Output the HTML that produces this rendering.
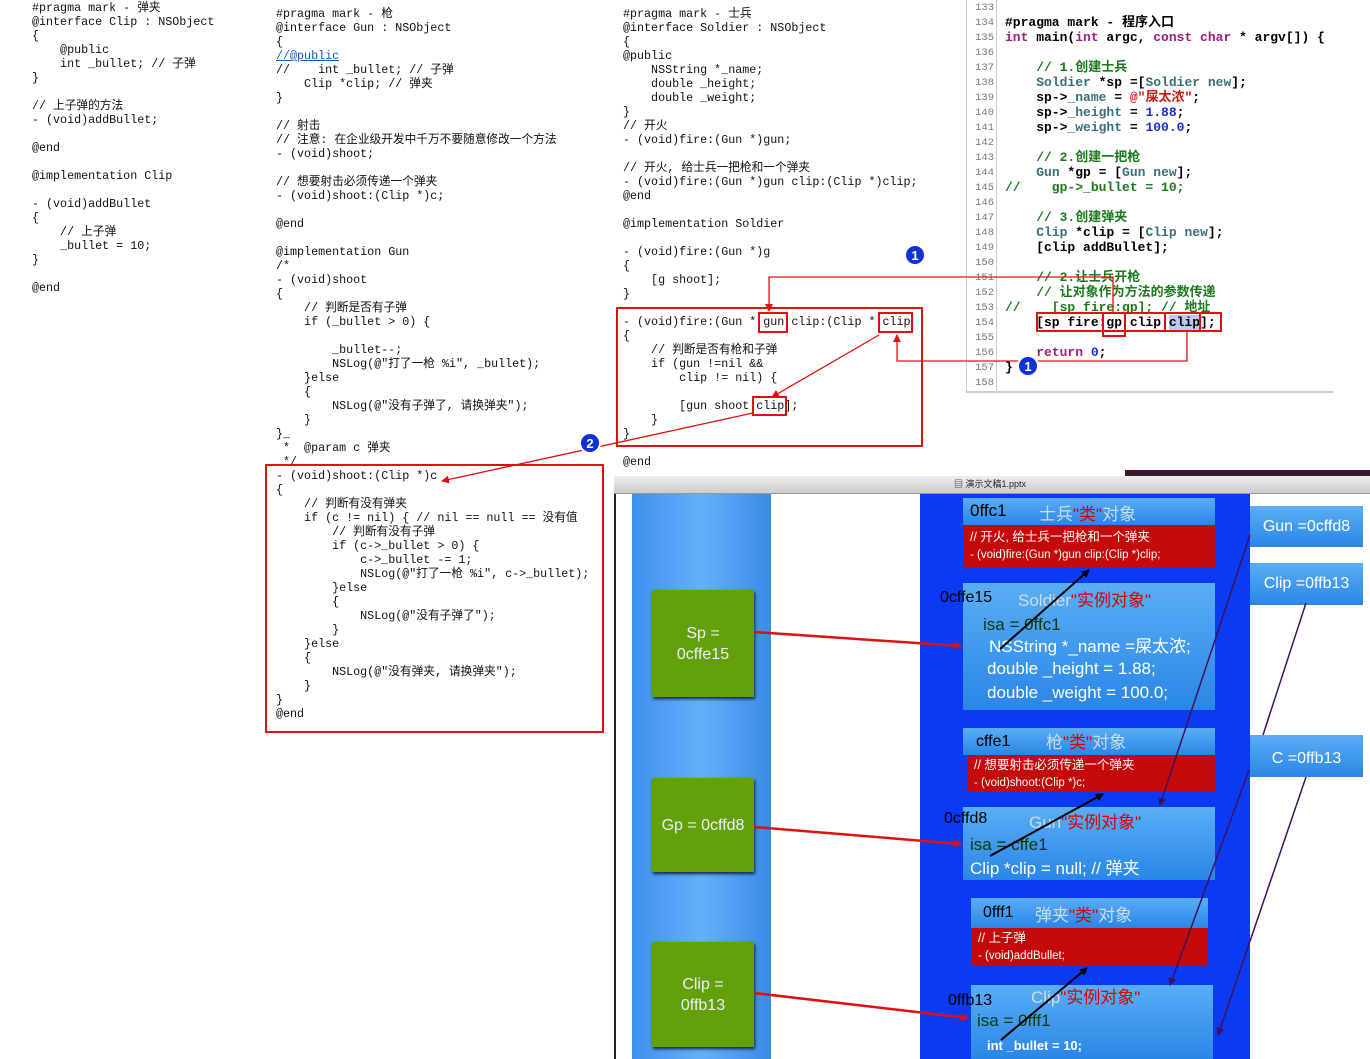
<!DOCTYPE html>
<html><head><meta charset="utf-8"><style>
body{margin:0;width:1370px;height:1059px;background:#fff;position:relative;overflow:hidden;font-family:"Liberation Sans","Noto Sans CJK SC",sans-serif}
.c{position:absolute;margin:0;font-family:"Liberation Mono","Noto Sans CJK SC",monospace;font-size:11.7px;line-height:14px;color:#111;white-space:pre}
.r{position:absolute;margin:0;font-family:"Liberation Mono","Noto Sans CJK SC",monospace;font-size:13px;line-height:15px;color:#000;white-space:pre;font-weight:bold}
.ln{position:absolute;margin:0;font-family:"Liberation Mono",monospace;font-size:10.5px;line-height:15px;color:#777;white-space:pre;text-align:right}
.g{color:#1c7a1c}.k{color:#a0207a}.n{color:#1c2ccf}.s{color:#c41a16}.t{color:#3a6e7a}
.ab{position:absolute}
.hb{position:absolute;background:linear-gradient(#5aaef5,#2a86e6);color:#fff;font-size:17px}
.rd{position:absolute;background:#c40a0a;color:#fff;font-size:12.5px;line-height:17px;padding-left:7px;box-sizing:border-box}
.gr{position:absolute;background:#64a00a;color:#eef;font-size:16px;text-align:center;display:flex;align-items:center;justify-content:center;line-height:21px;box-shadow:1px 2px 3px #124}
.cr{color:#d00}
</style></head><body>

<pre class="c" style="left:32px;top:1px">#pragma mark - 弹夹
@interface Clip : NSObject
{
    @public
    int _bullet; // 子弹
}

// 上子弹的方法
- (void)addBullet;

@end

@implementation Clip

- (void)addBullet
{
    // 上子弹
    _bullet = 10;
}

@end</pre>

<pre class="c" style="left:276px;top:7px">#pragma mark - 枪
@interface Gun : NSObject
{
<span style="color:#1a55c9;text-decoration:underline">//@public</span>
//    int _bullet; // 子弹
    Clip *clip; // 弹夹
}

// 射击
// 注意: 在企业级开发中千万不要随意修改一个方法
- (void)shoot;

// 想要射击必须传递一个弹夹
- (void)shoot:(Clip *)c;

@end

@implementation Gun
/*
- (void)shoot
{
    // 判断是否有子弹
    if (_bullet &gt; 0) {

        _bullet--;
        NSLog(@"打了一枪 %i", _bullet);
    }else
    {
        NSLog(@"没有子弹了, 请换弹夹");
    }
}_
 *  @param c 弹夹
 */
- (void)shoot:(Clip *)c
{
    // 判断有没有弹夹
    if (c != nil) { // nil == null == 没有值
        // 判断有没有子弹
        if (c-&gt;_bullet &gt; 0) {
            c-&gt;_bullet -= 1;
            NSLog(@"打了一枪 %i", c-&gt;_bullet);
        }else
        {
            NSLog(@"没有子弹了");
        }
    }else
    {
        NSLog(@"没有弹夹, 请换弹夹");
    }
}
@end</pre>

<pre class="c" style="left:623px;top:7px">#pragma mark - 士兵
@interface Soldier : NSObject
{
@public
    NSString *_name;
    double _height;
    double _weight;
}
// 开火
- (void)fire:(Gun *)gun;

// 开火, 给士兵一把枪和一个弹夹
- (void)fire:(Gun *)gun clip:(Clip *)clip;
@end

@implementation Soldier

- (void)fire:(Gun *)g
{
    [g shoot];
}

- (void)fire:(Gun * gun clip:(Clip * clip
{
    // 判断是否有枪和子弹
    if (gun !=nil &amp;&amp;
        clip != nil) {

        [gun shoot:clip];
    }
}

@end</pre>

<div class="ab" style="left:966px;top:0;width:1px;height:392px;background:#ccc"></div>
<div class="ab" style="left:996px;top:0;width:1px;height:392px;background:#ccc"></div>
<div class="ab" style="left:966px;top:391px;width:367px;height:2px;background:#ccc"></div>
<pre class="ln" style="left:968px;top:1px;width:26px">133
134
135
136
137
138
139
140
141
142
143
144
145
146
147
148
149
150
151
152
153
154
155
156
157
158</pre>
<pre class="r" style="left:1005px;top:15px">#pragma mark - 程序入口
<span class="k">int</span> main(<span class="k">int</span> argc, <span class="k">const char</span> * argv[]) {

    <span class="g">// 1.创建士兵</span>
    <span class="t">Soldier</span> *sp =[<span class="t">Soldier</span> <span class="t">new</span>];
    sp-&gt;<span class="t">_name</span> = <span class="s">@"屎太浓"</span>;
    sp-&gt;<span class="t">_height</span> = <span class="n">1.88</span>;
    sp-&gt;<span class="t">_weight</span> = <span class="n">100.0</span>;

    <span class="g">// 2.创建一把枪</span>
    <span class="t">Gun</span> *gp = [<span class="t">Gun</span> <span class="t">new</span>];
<span class="g">//    gp-&gt;_bullet = 10;</span>

    <span class="g">// 3.创建弹夹</span>
    <span class="t">Clip</span> *clip = [<span class="t">Clip</span> <span class="t">new</span>];
    [clip addBullet];

    <span class="g">// 2.让士兵开枪</span>
    <span class="g">// 让对象作为方法的参数传递</span>
<span class="g">//    [sp fire:gp]; // 地址</span>
    [sp fire:gp clip:<span style="background:#b5cdf0">clip</span>];

    <span class="k">return</span> <span class="n">0</span>;
}</pre>

<div class="ab" style="left:1125px;top:470px;width:245px;height:6px;background:#3a1830"></div>
<div class="ab" style="left:614px;top:476px;width:756px;height:17px;background:linear-gradient(#eee,#ccc);border-bottom:1px solid #999;font-size:9px;line-height:17px;color:#222"><span style="position:absolute;left:340px">▤ 演示文稿1.pptx</span></div>
<div class="ab" style="left:614px;top:494px;width:2px;height:565px;background:#222"></div>
<div class="ab" style="left:632px;top:494px;width:139px;height:565px;background:linear-gradient(90deg,#3e90ef,#64b0f8 50%,#3a8ae8)"></div>
<div class="ab" style="left:920px;top:494px;width:330px;height:565px;background:#0a3af2"></div>

<div class="gr" style="left:652px;top:590px;width:102px;height:107px">Sp =<br>0cffe15</div>
<div class="gr" style="left:652px;top:778px;width:102px;height:94px">Gp = 0cffd8</div>
<div class="gr" style="left:652px;top:942px;width:102px;height:105px">Clip =<br>0ffb13</div>

<div class="hb" style="left:963px;top:498px;width:252px;height:27px"><span style="position:absolute;left:7px;top:3px;color:#000">0ffc1</span><span style="position:absolute;left:76px;top:2px;color:#cde">士兵<span class="cr">"类"</span>对象</span></div>
<div class="rd" style="left:963px;top:525px;width:252px;height:43px;padding-top:4px">// 开火, 给士兵一把枪和一个弹夹<br><span style="font-size:11.5px">- (void)fire:(Gun *)gun clip:(Clip *)clip;</span></div>

<div class="hb" style="left:963px;top:583px;width:252px;height:127px;font-size:17px;line-height:22px">
<div style="position:absolute;left:55px;top:7px;color:#cde">Soldier<span class="cr">"实例对象"</span></div>
<div style="position:absolute;left:20px;top:31px;color:#0c3a0c">isa = 0ffc1</div>
<div style="position:absolute;left:26px;top:53px">NSString *_name =屎太浓;</div>
<div style="position:absolute;left:24px;top:75px">double _height = 1.88;</div>
<div style="position:absolute;left:24px;top:99px">double _weight = 100.0;</div></div>
<div class="ab" style="left:940px;top:589px;font-size:16px;color:#000">0cffe15</div>

<div class="hb" style="left:963px;top:728px;width:252px;height:27px"><span style="position:absolute;left:13px;top:5px;color:#000;font-size:16px">cffe1</span><span style="position:absolute;left:83px;top:0px;color:#cde">枪<span class="cr">"类"</span>对象</span></div>
<div class="rd" style="left:967px;top:755px;width:248px;height:37px;padding-top:2px">// 想要射击必须传递一个弹夹<br><span style="font-size:11.5px">- (void)shoot:(Clip *)c;</span></div>

<div class="hb" style="left:963px;top:807px;width:252px;height:73px;font-size:17px;line-height:22px">
<div style="position:absolute;left:66px;top:5px;color:#cde">Gun<span class="cr">"实例对象"</span></div>
<div style="position:absolute;left:7px;top:27px;color:#0c3a0c">isa = cffe1</div>
<div style="position:absolute;left:7px;top:51px">Clip *clip = null; // 弹夹</div></div>
<div class="ab" style="left:944px;top:810px;font-size:16px;color:#000">0cffd8</div>

<div class="hb" style="left:971px;top:898px;width:237px;height:30px"><span style="position:absolute;left:12px;top:6px;color:#000;font-size:16px">0fff1</span><span style="position:absolute;left:64px;top:3px;color:#cde">弹夹<span class="cr">"类"</span>对象</span></div>
<div class="rd" style="left:971px;top:928px;width:237px;height:37px;padding-top:2px">//  上子弹<br><span style="font-size:11.5px">- (void)addBullet;</span></div>

<div class="hb" style="left:971px;top:985px;width:242px;height:74px;font-size:17px;line-height:22px">
<div style="position:absolute;left:60px;top:2px;color:#cde">Clip<span class="cr">"实例对象"</span></div>
<div style="position:absolute;left:6px;top:25px;color:#0c3a0c">isa = 0fff1</div>
<div style="position:absolute;left:16px;top:50px;font-size:13px;font-weight:bold">int _bullet = 10;</div></div>
<div class="ab" style="left:948px;top:992px;font-size:16px;color:#000">0ffb13</div>

<div class="hb" style="left:1250px;top:506px;width:113px;height:41px;line-height:41px;text-align:center;font-size:16px">Gun =0cffd8</div>
<div class="hb" style="left:1250px;top:563px;width:113px;height:42px;line-height:42px;text-align:center;font-size:16px">Clip =0ffb13</div>
<div class="hb" style="left:1250px;top:735px;width:113px;height:42px;line-height:48px;text-align:center;font-size:16px">C =0ffb13</div>

<svg class="ab" style="left:0;top:0" width="1370" height="1059" viewBox="0 0 1370 1059">
<defs>
<marker id="ar" markerWidth="8" markerHeight="8" refX="7" refY="4" orient="auto" markerUnits="userSpaceOnUse"><path d="M0,0L8,4L0,8z" fill="#e01010"/></marker>
<marker id="ak" markerWidth="8" markerHeight="8" refX="7" refY="4" orient="auto" markerUnits="userSpaceOnUse"><path d="M0,0L8,4L0,8z" fill="#000"/></marker>
<marker id="ap" markerWidth="8" markerHeight="8" refX="7" refY="4" orient="auto" markerUnits="userSpaceOnUse"><path d="M0,0L8,4L0,8z" fill="#40105a"/></marker>
</defs>
<g fill="none" stroke="#e01010" stroke-width="2">
<rect x="617" y="308" width="305" height="138"/>
<rect x="759" y="313" width="28" height="19"/>
<rect x="879" y="313" width="33" height="19"/>
<rect x="753" y="397" width="33" height="18"/>
<rect x="266" y="465" width="337" height="267"/>
<rect x="1037" y="313" width="184" height="18"/>
<rect x="1103" y="313" width="22" height="23"/>
<rect x="1165" y="313" width="35" height="18"/>
</g>
<g fill="none" stroke="#e01010" stroke-width="1.3">
<polyline points="1113,313 1113,277 769,277 769,311" marker-end="url(#ar)"/>
<polyline points="1187,331 1187,361 897,361 897,335" marker-end="url(#ar)"/>
<line x1="879" y1="335" x2="772" y2="397" marker-end="url(#ar)"/>
<line x1="753" y1="413" x2="442" y2="481" marker-end="url(#ar)"/>
</g>
<g stroke="#e01010" stroke-width="2.5" fill="none">
<line x1="754" y1="632" x2="961" y2="646" marker-end="url(#ar)"/>
<line x1="754" y1="827" x2="961" y2="844" marker-end="url(#ar)"/>
<line x1="754" y1="993" x2="968" y2="1018" marker-end="url(#ar)"/>
</g>
<g stroke="#000" stroke-width="2" fill="none">
<line x1="1000" y1="649" x2="1089" y2="570" marker-end="url(#ak)"/>
<line x1="990" y1="856" x2="1103" y2="794" marker-end="url(#ak)"/>
<line x1="1001" y1="1040" x2="1087" y2="968" marker-end="url(#ak)"/>
</g>
<g stroke="#40105a" stroke-width="1.5" fill="none">
<line x1="1250" y1="535" x2="1160" y2="805" marker-end="url(#ap)"/>
<line x1="1306" y1="603" x2="1263" y2="735"/>
<line x1="1249" y1="770" x2="1170" y2="985" marker-end="url(#ap)"/>
<line x1="1306" y1="777" x2="1218" y2="1035" marker-end="url(#ap)"/>
</g>
<g font-family="Liberation Sans,sans-serif" font-weight="bold" font-size="13" fill="#fff" text-anchor="middle">
<circle cx="915" cy="255" r="10" fill="#1030d8" stroke="#fff" stroke-width="2"/><text x="915" y="260">1</text>
<circle cx="1028" cy="366" r="10" fill="#1030d8" stroke="#fff" stroke-width="2"/><text x="1028" y="371">1</text>
<circle cx="590" cy="443" r="10" fill="#1030d8" stroke="#fff" stroke-width="2"/><text x="590" y="448">2</text>
</g>
</svg>
</body></html>
